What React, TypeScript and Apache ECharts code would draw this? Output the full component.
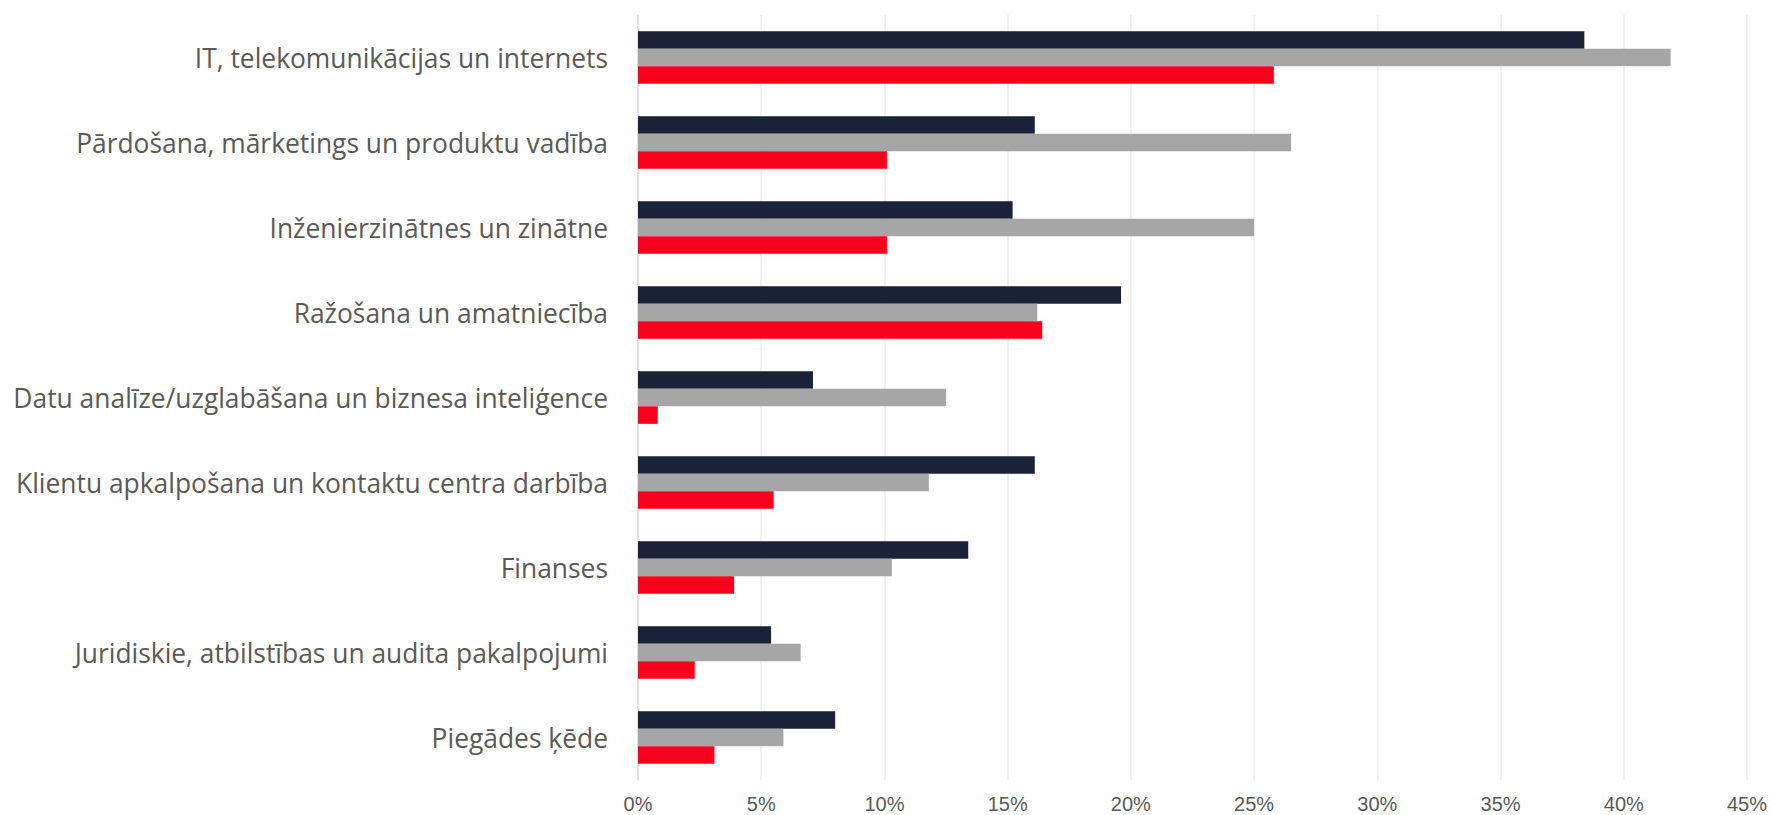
import React, { useEffect, useRef } from "react";
import * as echarts from "echarts";

const categories = [
  "IT, telekomunikācijas un internets",
  "Pārdošana, mārketings un produktu vadība",
  "Inženierzinātnes un zinātne",
  "Ražošana un amatniecība",
  "Datu analīze/uzglabāšana un biznesa inteliģence",
  "Klientu apkalpošana un kontaktu centra darbība",
  "Finanses",
  "Juridiskie, atbilstības un audita pakalpojumi",
  "Piegādes ķēde",
];

const seriesDark = [38.4, 16.1, 15.2, 19.6, 7.1, 16.1, 13.4, 5.4, 8.0];
const seriesGray = [41.9, 26.5, 25.0, 16.2, 12.5, 11.8, 10.3, 6.6, 5.9];
const seriesRed = [25.8, 10.1, 10.1, 16.4, 0.8, 5.5, 3.9, 2.3, 3.1];

const colors = ["#1a2238", "#a6a6a6", "#f7001e"];

export default function App() {
  const ref = useRef<HTMLDivElement>(null);
  useEffect(() => {
    if (!ref.current) return;
    const chart = echarts.init(ref.current, undefined, { renderer: "svg" });
    const mk = (name: string, data: number[], color: string) => ({
      name,
      type: "bar",
      data,
      barGap: "0%",
      barCategoryGap: "38%",
      itemStyle: { color },
    });
    chart.setOption({
      animation: false,
      backgroundColor: "#ffffff",
      grid: { left: 638, right: 24, top: 15, bottom: 35, containLabel: false },
      xAxis: {
        type: "value",
        min: 0,
        max: 45,
        interval: 5,
        axisLine: { show: false },
        axisTick: { show: false },
        splitLine: { show: true, lineStyle: { color: "#ececec", width: 1.5 } },
        axisLabel: {
          formatter: "{value}%",
          color: "#595959",
          fontFamily: "Liberation Sans",
          fontSize: 20,
          margin: 14,
        },
      },
      yAxis: {
        type: "category",
        data: categories,
        inverse: true,
        axisLine: { show: true, lineStyle: { color: "#d9d9d9", width: 1.5 } },
        axisTick: { show: false },
        splitLine: { show: false },
        axisLabel: {
          color: "#595959",
          fontFamily: "Open Sans",
          fontSize: 26.4,
          margin: 30,
        },
      },
      series: [
        mk("A", seriesDark, colors[0]),
        mk("B", seriesGray, colors[1]),
        mk("C", seriesRed, colors[2]),
      ],
    });
    return () => chart.dispose();
  }, []);
  return (
    <div
      ref={ref}
      style={{ position: "fixed", left: 0, top: 0, width: 1771, height: 815 }}
    />
  );
}
